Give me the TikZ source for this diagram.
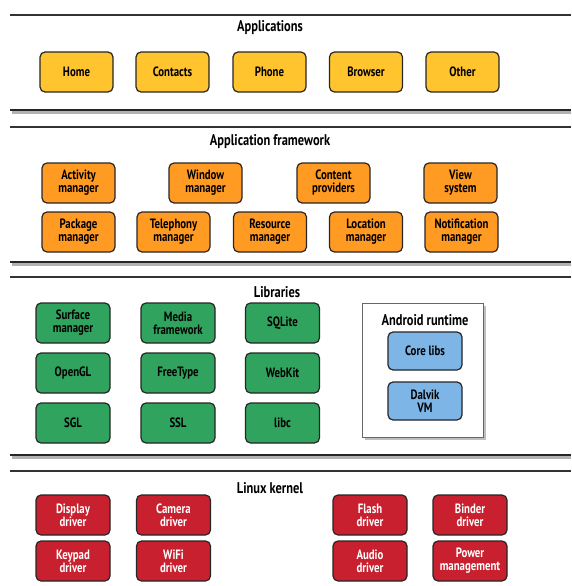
\documentclass[tikz,border=0pt]{standalone}
\usepackage{fontspec}
\setmainfont{PT Sans}[FakeStretch=0.8]
\usetikzlibrary{positioning,shapes,fit}
\definecolor{appyellow}{HTML}{FFC42E}
\definecolor{fworange}{HTML}{FF9A22}
\definecolor{libgreen}{HTML}{30A35E}
\definecolor{rtblue}{HTML}{7DB5E6}
\definecolor{kernred}{HTML}{C8202E}
\tikzstyle{blk}=[draw=black!85,line width=1.2pt,rounded corners=5pt,minimum width=73pt,minimum height=40pt,align=center,inner sep=1pt,font=\bfseries\fontsize{13.5}{13}\selectfont]
\tikzstyle{app}=[blk,fill=appyellow]
\tikzstyle{fw}=[blk,fill=fworange]
\tikzstyle{lib}=[blk,fill=libgreen,minimum width=74pt]
\tikzstyle{rt}=[blk,fill=rtblue,minimum width=74pt,minimum height=38pt]
\tikzstyle{kern}=[blk,fill=kernred,text=white,minimum width=74pt]
\tikzstyle{layer}=[font=\bfseries\fontsize{15.5}{15}\selectfont]
\tikzstyle{thin}=[black!80,line width=1.2pt]
\tikzstyle{thick}=[black!85,line width=2.2pt]
\begin{document}
\begin{tikzpicture}
  [x=1pt,y=-1pt]
\useasboundingbox (0,0) rectangle (571,586);
% separators
\foreach \y in {15,127,277,471}
  \draw[thin] (10,\y) -- (571,\y);
\foreach \y in {110,262,455} {
  \draw[black!30,line width=3pt] (12,\y+2) -- (571,\y+2);
  \draw[thick] (10,\y) -- (571,\y);
}
% applications
\node[layer] (tapp) at (270,28) {Applications};
\node[app] (home) at (76.5,72) {Home};
\node[app] (contacts) at (172.5,72) {Contacts};
\node[app] (phone) at (269.5,72) {Phone};
\node[app] (browser) at (366,72) {Browser};
\node[app] (other) at (462.5,72) {Other};
% application framework
\node[layer] (tfw) at (270,142) {Application framework};
\node[fw] (actm) at (78.5,183) {Activity\\manager};
\node[fw] (winm) at (205.5,183) {Window\\manager};
\node[fw] (cont) at (333.5,183) {Content\\providers};
\node[fw] (view) at (460.5,183) {View\\system};
\node[fw] (pkgm) at (78.5,232) {Package\\manager};
\node[fw] (telm) at (173.5,232) {Telephony\\manager};
\node[fw] (resm) at (270,232) {Resource\\manager};
\node[fw] (locm) at (366,232) {Location\\manager};
\node[fw] (notm) at (461.5,232) {Notification\\manager};
% libraries
\node[layer] (tlib) at (277,292) {Libraries};
\node[lib] (surf) at (73,323) {Surface\\manager};
\node[lib] (media) at (178,323) {Media\\framework};
\node[lib] (sqlite) at (282.5,323) {SQLite};
\node[lib] (opengl) at (73,373) {OpenGL};
\node[lib] (ftype) at (178,373) {FreeType};
\node[lib] (webkit) at (282.5,373) {WebKit};
\node[lib] (sgl) at (73,423) {SGL};
\node[lib] (ssl) at (178,423) {SSL};
\node[lib] (libc) at (282.5,423) {libc};
% android runtime
\fill[black!25] (365,306) rectangle (486,440);
\node[draw=black!60,fill=white,line width=1pt,minimum width=121pt,minimum height=134pt] (rtbox) at (422.5,370) {};
\node[layer] (trt) at (425,320) {Android runtime};
\node[rt] (core) at (425,351) {Core libs};
\node[rt] (dalvik) at (425,401) {Dalvik\\VM};
% linux kernel
\node[layer] (tkern) at (270,488) {Linux kernel};
\node[kern] (disp) at (73,515) {Display\\driver};
\node[kern] (cam) at (173.5,515) {Camera\\driver};
\node[kern] (flash) at (370,515) {Flash\\driver};
\node[kern] (binder) at (470,515) {Binder\\driver};
\node[kern] (keyp) at (73,561) {Keypad\\driver};
\node[kern] (wifi) at (173.5,561) {WiFi\\driver};
\node[kern] (audio) at (370,561) {Audio\\driver};
\node[kern] (power) at (470,561) {Power\\management};
\end{tikzpicture}
\end{document}
